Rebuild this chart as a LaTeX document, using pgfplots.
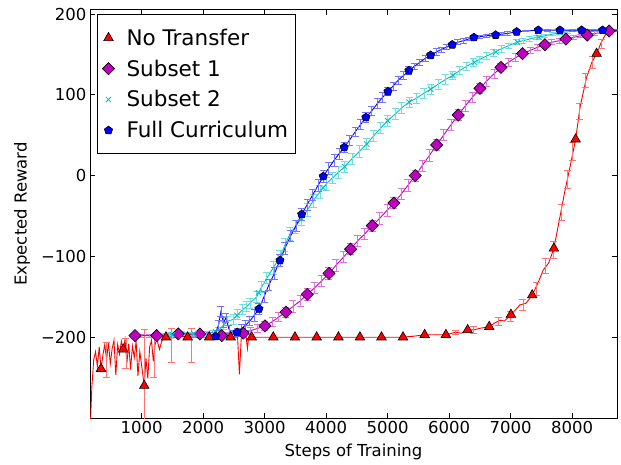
\documentclass[border=0pt]{standalone}
\usepackage{fontspec}
\setmainfont{DejaVu Sans}
\usepackage{pgfplots}
\pgfplotsset{compat=1.18}
\usepackage{pgfplotstable}

\definecolor{mplred}{rgb}{1,0,0}
\definecolor{mplmag}{rgb}{0.75,0,0.75}
\definecolor{mplcyan}{rgb}{0,0.75,0.75}
\definecolor{mplblue}{rgb}{0,0,1}

\begin{document}

% No Transfer: noisy line
\pgfplotstableread{
x y
160 -320
190 -262
220 -228
250 -218
280 -236
310 -212
339 -239
370 -222
400 -209
430 -228
460 -206
490 -233
520 -214
550 -204
580 -247
610 -209
640 -221
670 -205
701 -215
730 -203
760 -232
790 -208
820 -240
850 -211
880 -225
910 -205
940 -248
970 -218
1000 -235
1042 -260
1070 -226
1100 -251
1130 -212
1160 -204
1190 -230
1220 -208
1250 -203
1290 -215
1330 -204
1370 -201
1395 -200
1500 -201
1650 -199
1800 -200
2000 -200
2300 -200
2560 -200
2590 -246
2620 -200
2700 -200
2720 -214
2740 -200
3000 -200
3500 -200
4000 -200
4500 -200
5000 -200
5200 -200
5400 -199
5602 -197
5800 -197
5948 -197
6100 -194
6200 -195
6301 -191
6400 -191
6500 -189
6652 -187
6750 -182
6826 -179
6900 -180
7005 -172
7080 -166
7151 -160
7250 -158
7351 -148
7450 -132
7530 -117
7620 -108
7704 -90
7800 -52
7880 -20
7964 10
8057 45
8130 85
8236 122
8320 140
8398 151
8480 166
8561 177
8650 180
8730 181
}\redline

\pgfplotstableread{
x y e
430 -228 22
745 -220 18
1042 -250 60
1200 -225 25
1490 -210 21
1813 -210 21
6100 -194 3
6400 -191 4
6800 -181 5
7000 -174 6
7200 -160 7
7420 -140 8
7560 -112 9
7700 -92 10
7820 -45 10
7920 -5 11
8010 30 11
8120 80 10
8220 118 9
8330 140 7
8470 163 5
8600 178 3
}\rederr

\pgfplotstableread{
x y
339 -239
701 -215
1042 -260
1395 -200
1748 -200
2099 -200
2447 -200
2789 -200
3140 -200
3493 -200
3846 -200
4200 -200
4550 -200
4900 -200
5250 -200
5602 -197
5948 -197
6301 -191
6652 -187
7005 -172
7351 -148
7704 -90
8057 45
8398 151
}\redmk

% Subset 1
\pgfplotstableread{
x y e
891 -198 2
1000 -198 2
1120 -198 2
1244 -198 2
1360 -197 2
1480 -197 2
1595 -196 2
1710 -196 2
1830 -197 2
1948 -196 2
2060 -197 2
2180 -198 2
2301 -198 3
2420 -197 3
2540 -196 3
2652 -195 4
2770 -192 4
2890 -189 5
3005 -186 5
3120 -181 6
3230 -175 6
3346 -169 6
3460 -162 7
3580 -155 7
3693 -147 7
3810 -139 7
3930 -130 7
4046 -121 7
4160 -111 7
4280 -101 7
4398 -91 7
4510 -81 7
4630 -72 7
4750 -62 7
4870 -53 7
4990 -43 7
5102 -34 7
5220 -23 7
5330 -12 7
5449 0 7
5560 12 7
5680 25 7
5797 38 7
5910 50 7
6030 63 7
6148 75 7
6260 86 7
6380 97 6
6501 108 6
6610 117 6
6730 126 6
6842 134 5
6960 140 5
7080 146 5
7195 151 4
7320 155 4
7440 159 4
7558 162 3
7670 165 3
7790 167 3
7899 169 3
8020 171 2
8130 173 2
8246 174 2
8370 176 2
8490 177 1
8603 179 1
8730 180 1
}\magline

\pgfplotstableread{
x y
891 -198
1244 -198
1595 -196
1948 -196
2301 -198
2652 -195
3005 -186
3346 -169
3693 -147
4046 -121
4398 -91
4750 -62
5102 -34
5449 0
5797 38
6148 75
6501 108
6842 134
7195 151
7558 162
7899 169
8246 174
8603 179
}\magmk

% Subset 2
\pgfplotstableread{
x y e
1350 -197 2
1450 -196 2
1550 -197 2
1650 -195 2
1750 -196 2
1850 -196 2
1950 -195 2
2050 -196 3
2150 -194 3
2250 -192 4
2330 -185 5
2400 -180 6
2488 -178 6
2560 -172 6
2640 -166 6
2707 -162 6
2761 -158 6
2870 -150 7
2950 -138 7
3035 -127 7
3140 -114 8
3249 -101 8
3330 -86 8
3411 -72 8
3500 -63 8
3602 -53 8
3700 -42 8
3791 -31 8
3900 -20 8
4008 -10 8
4100 -3 7
4200 4 7
4300 11 7
4420 21 7
4540 30 7
4659 39 7
4770 49 7
4890 59 7
5000 68 7
5120 76 7
5230 84 7
5351 91 6
5470 96 6
5590 102 6
5704 107 6
5820 113 6
5940 119 6
6057 124 5
6170 130 5
6280 135 5
6392 140 5
6500 144 4
6610 148 4
6717 152 4
6850 157 4
6970 161 3
7098 165 3
7200 167 3
7310 169 3
7423 171 3
7550 173 2
7680 175 2
7802 177 2
7930 178 2
8050 179 1
8181 179 1
8330 180 1
8485 180 1
8730 180 1
}\cyanline

\pgfplotstableread{
x y
1500 -197
1850 -196
2200 -193
2550 -173
2900 -145
3250 -101
3600 -53
3950 -15
4300 11
4660 39
5000 68
5350 91
5700 107
6060 124
6410 140
6760 153
7110 165
7460 171
7810 177
8160 179
8510 180
}\cyanmk

% Full Curriculum
\pgfplotstableread{
x y e
2100 -197 3
2180 -199 3
2250 -185 6
2290 -168 6
2330 -182 6
2370 -176 6
2420 -190 5
2480 -196 4
2554 -194 5
2620 -190 6
2690 -185 6
2760 -180 6
2830 -173 7
2907 -165 7
2990 -150 7
3070 -135 7
3160 -121 7
3249 -105 7
3330 -90 7
3420 -75 7
3510 -62 7
3602 -48 7
3690 -36 7
3780 -24 7
3870 -12 7
3953 -1 7
4040 9 7
4130 19 7
4210 27 7
4294 35 6
4380 44 6
4470 54 6
4560 63 6
4647 72 6
4740 80 6
4830 89 6
4920 97 6
5005 104 5
5090 111 5
5170 118 5
5260 124 5
5346 130 5
5430 135 4
5520 140 4
5610 145 4
5699 149 4
5790 153 4
5870 156 3
5960 159 3
6050 162 3
6140 165 3
6230 167 3
6320 169 2
6403 171 2
6500 172 2
6600 173 2
6700 174 2
6850 175 2
6950 176 2
7098 178 1
7250 179 1
7449 180 1
7600 180 1
7802 180 1
8000 180 1
8154 180 1
8300 180 1
8496 180 1
8730 180 1
}\blueline

\pgfplotstableread{
x y
2203 -199
2554 -194
2907 -165
3249 -105
3602 -48
3953 -1
4294 35
4647 72
5005 104
5346 130
5699 149
6050 162
6403 171
6756 174
7098 178
7449 180
7802 180
8154 180
8496 180
}\bluemk

\begin{tikzpicture}
\useasboundingbox (0,0) rectangle (621pt,464pt);
\begin{axis}[
  at={(90pt,46pt)}, anchor=south west,
  scale only axis, width=527pt, height=408pt,
  xmin=160, xmax=8730, ymin=-300, ymax=205,
  xtick={1000,2000,3000,4000,5000,6000,7000,8000},
  xticklabels={1000,2000,3000,4000,5000,6000,7000,8000},
  ytick={-200,-100,0,100,200},
  yticklabels={−200,−100,0,100,200},
  tick align=inside, major tick length=5pt,
  tick style={black, line width=0.8pt},
  axis line style={line width=1pt},
  ticklabel style={font=\fontsize{16.5}{20}\selectfont},
  label style={font=\fontsize{16.5}{20}\selectfont},
  xlabel={Steps of Training}, ylabel={Expected Reward},
  xlabel style={at={(axis description cs:0.5,-0.083)}, anchor=center},
  ylabel style={at={(axis description cs:-0.129,0.5)}, anchor=center},
  legend cell align=left,
  legend style={at={(axis description cs:0.0133,0.99)}, anchor=north west,
    draw=black, line width=0.8pt, font=\fontsize{21.5}{26}\selectfont,
    inner xsep=5pt, inner ysep=12.5pt, row sep=9pt,
    /tikz/every odd column/.append style={column sep=10pt}},
  legend image code/.code={\draw[mark repeat=2,mark phase=2] plot coordinates {(0pt,0pt) (5pt,0pt) (10pt,0pt)};},
]
% lines
\addplot[forget plot, mplred, line width=0.9pt, mark=none] table {\redline};
\addplot[forget plot, draw=none, mark=none,
  error bars/.cd, y dir=both, y explicit,
  error bar style={draw=mplred!55, line width=0.8pt},
  error mark options={rotate=90, draw=mplred!55, line width=0.8pt, mark size=3.5pt}]
  table[x=x, y=y, y error=e] {\rederr};
\addplot[forget plot, mplmag, line width=0.9pt, mark=none,
  error bars/.cd, y dir=both, y explicit,
  error bar style={draw=mplmag!55, line width=0.8pt},
  error mark options={rotate=90, draw=mplmag!55, line width=0.8pt, mark size=3.5pt}]
  table[x=x, y=y, y error=e] {\magline};
\addplot[forget plot, mplcyan, line width=0.9pt, mark=none,
  error bars/.cd, y dir=both, y explicit,
  error bar style={draw=mplcyan!55, line width=0.8pt},
  error mark options={rotate=90, draw=mplcyan!55, line width=0.8pt, mark size=3.5pt}]
  table[x=x, y=y, y error=e] {\cyanline};
\addplot[forget plot, mplblue, line width=0.9pt, mark=none,
  error bars/.cd, y dir=both, y explicit,
  error bar style={draw=mplblue!55, line width=0.8pt},
  error mark options={rotate=90, draw=mplblue!55, line width=0.8pt, mark size=3.5pt}]
  table[x=x, y=y, y error=e] {\blueline};
% markers
\addplot[only marks, mark=triangle*, mark size=5.5pt,
  mark options={fill=mplred, draw=black, line width=0.6pt}] table {\redmk};
\addlegendentry{No Transfer}
\addplot[only marks, mark=square*, mark size=4.3pt,
  mark options={rotate=45, fill=mplmag, draw=black, line width=0.6pt}] table {\magmk};
\addlegendentry{Subset 1}
\addplot[only marks, mark=x, mark size=3.8pt,
  mark options={draw=mplcyan, line width=0.8pt}] table {\cyanmk};
\addlegendentry{Subset 2}
\addplot[only marks, mark=pentagon*, mark size=4.3pt,
  mark options={fill=mplblue, draw=black, line width=0.6pt}] table {\bluemk};
\addlegendentry{Full Curriculum}
\end{axis}
\end{tikzpicture}
\end{document}
